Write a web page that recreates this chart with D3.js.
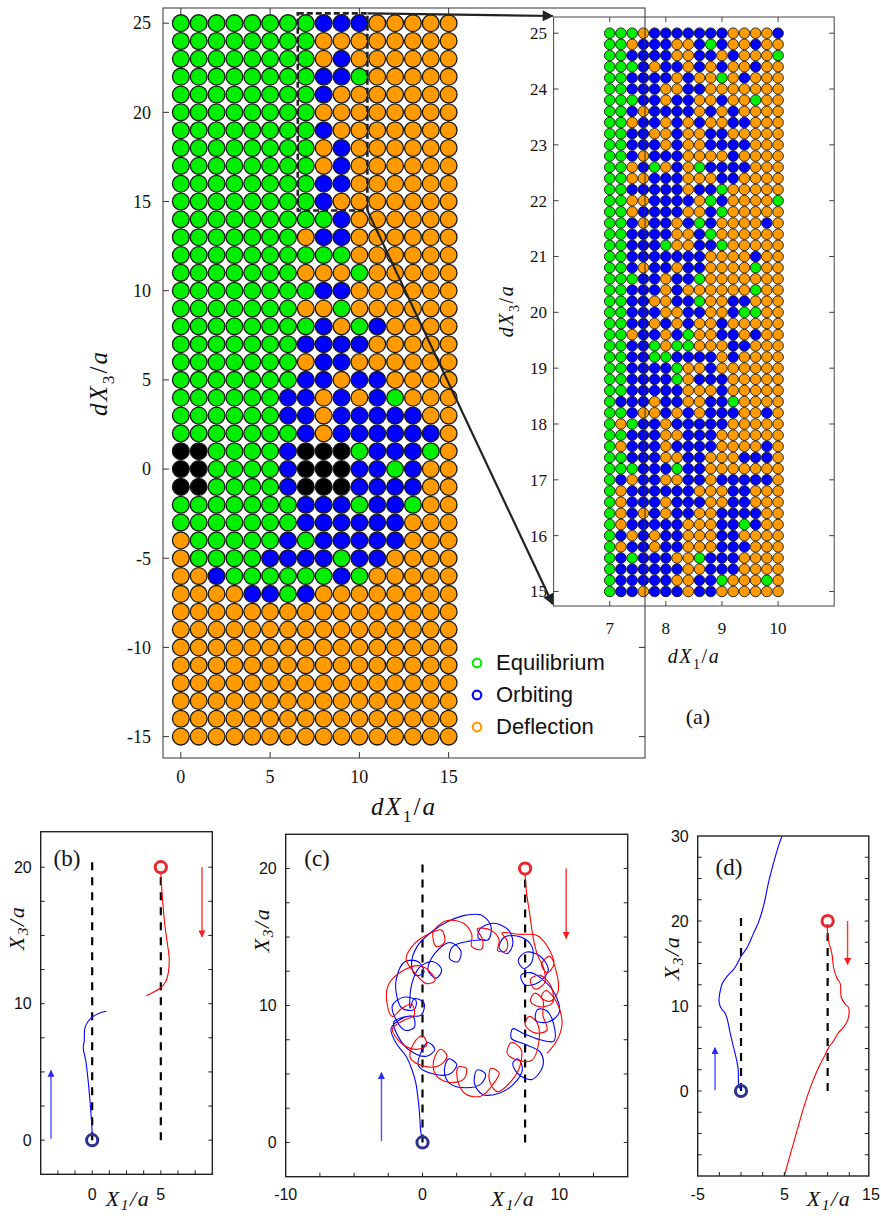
<!DOCTYPE html>
<html>
<head>
<meta charset="utf-8">
<script src="https://cdn.jsdelivr.net/npm/d3@7"></script>
<style>
  body { margin: 0; background: #fff; }
  svg { display: block; }
</style>
</head>
<body>
<svg id="fig" width="881" height="1218"></svg>
<script>
// ---------- (a) phase map of outcomes ----------
const mainDX1 = [0, 1, 2, 3, 4, 5, 6, 7, 8, 9, 10, 11, 12, 13, 14, 15];
const mainDX3 = [25, 24, 23, 22, 21, 20, 19, 18, 17, 16, 15, 14, 13, 12, 11, 10, 9, 8, 7, 6, 5, 4, 3, 2, 1, 0,
                 -1, -2, -3, -4, -5, -6, -7, -8, -9, -10, -11, -12, -13, -14, -15];
// G = equilibrium, B = orbiting, O = deflection, K = overlapping start
const mainStates = [
  "GGGGGGGGBBBOOOOO", "GGGGGGGGOOOOOOOO", "GGGGGGGGOBOOOOOO", "GGGGGGGGBBGOOOOO",
  "GGGGGGGGBOOOOOOO", "GGGGGGGGOOOOOOOO", "GGGGGGGGBOOOOOOO", "GGGGGGGGOBOOOOOO",
  "GGGGGGGGOBOOOOOO", "GGGGGGGGBBOOOOOO", "GGGGGGGGBOOOOOOO", "GGGGGGGGGBOOOOOO",
  "GGGGGGGOBBOOOOOO", "GGGGGGGGGGOOOOOO", "GGGGGGGOOOGOOOOO", "GGGGGGGGBBOOOOOO",
  "GGGGGGGOOGOOOOOO", "GGGGGGGGBOGBOOOO", "GGGGGGGBBBBOOOOO", "GGGGGGGOBBOOOOOO",
  "GGGGGGGBBOBBOOOO", "GGGGGGBBOBOBGOOO", "GGGGGGBBOBBBBBOO", "GGGGGGGBOBBBBBBO",
  "KKGGGGBKKKGBBBGO", "KKGGGGBKKKBBGBOO", "KKGGGGBKKKBBBBOO", "GGGGGGGBBBGBBGOO",
  "GGGGGGGBBBBBBOOO", "OGGGGGBGBBBBBOOO", "OGGGGBBBBGBBOOOO", "OOBGGGGGGBGOOOOO",
  "OOOOBBGBOOOOOOOO", "OOOOOOOOOOOOOOOO", "OOOOOOOOOOOOOOOO", "OOOOOOOOOOOOOOOO",
  "OOOOOOOOOOOOOOOO", "OOOOOOOOOOOOOOOO", "OOOOOOOOOOOOOOOO", "OOOOOOOOOOOOOOOO",
  "OOOOOOOOOOOOOOOO"
];
const mainXTicks = [0, 5, 10, 15];
const mainYTicks = [-15, -10, -5, 0, 5, 10, 15, 20, 25];

// refined scan of the window 7 <= dX1 <= 10, 15 <= dX3 <= 25
const zoomBoxX = [6.55, 10.45];
const zoomBoxY = [14.5, 25.55];
const insetDX1 = [7, 7.2, 7.4, 7.6, 7.8, 8, 8.2, 8.4, 8.6, 8.8, 9, 9.2, 9.4, 9.6, 9.8, 10];
const insetDX3 = [25, 24.8, 24.6, 24.4, 24.2, 24, 23.8, 23.6, 23.4, 23.2, 23, 22.8, 22.6, 22.4, 22.2, 22,
                  21.8, 21.6, 21.4, 21.2, 21, 20.8, 20.6, 20.4, 20.2, 20, 19.8, 19.6, 19.4, 19.2, 19,
                  18.8, 18.6, 18.4, 18.2, 18, 17.8, 17.6, 17.4, 17.2, 17, 16.8, 16.6, 16.4, 16.2, 16,
                  15.8, 15.6, 15.4, 15.2, 15];
const insetStates = [
  "GGGOBBBBBBBOOOOB", "GGOBBBOOBGBOOBOO", "GGBBBBOOBBOBOOOG", "GGGBOBBOBOBOOBOO",
  "GGBBBBOBOOGOBOOO", "GGBBBOOBBOOOOOOO", "GGGBBOBBOOBOOGOO", "GGBOBBBBOBOBOOOO",
  "GGOBBOBOBOOBBOOO", "GGBBOOBOOBBOOOOO", "GGBBBOBOOBBBBOOO", "GGBOBBBOOOOBOOOO",
  "GGOBGOBOGBBBBOOO", "GGOOBBBOOOBBOOOO", "GGBBBBBOBBGOOOOO", "GGOOBBBBOGBOOOOG",
  "GGOBBBBOOBGOOOOO", "GGBOBBOBGBOOOOBO", "GGBBBBOOBGOOOOOO", "GGBBBGOOBBGOOOOO",
  "GGBBBBBBBOOOOBOO", "GGBOBBOBBOOOOGOO", "GGGBBOBBGOOOOOOO", "GGBBBOBOOOOOOGOO",
  "GGBBOOBBGOOBBOOO", "GGBBBOOBBOOBGGOO", "GGBBOBOBOOBOOOOO", "GGOBBOBGOOBBOBOO",
  "GGBBGOGGOOOBBOOO", "GGBBGGBBBBOBOOOO", "GGBBBBGOOBOOOOOO", "GGBBBBGOBBBOOOOO",
  "GGBBBBBOOOBOOOOO", "GBBBOBBOOBBGOOOO", "GGBOOBOBOBBBOOBO", "GOGBBOBBBBBOOOOO",
  "GGBBBOOBBBOOOOOO", "GOBBBOBBBBOOOOBO", "GGBBBOOBBOOOBBBO", "GGGBBBGBBOOOOOOO",
  "GBOBBOOBBOBBBBBO", "GOBBBBBBOOOBBOOO", "GOBBBOBBBOOBBOOO", "GOBOBOBBOOBBBBOO",
  "GOBBBBBOOOBBGBOO", "GBOBOBBOOOBBOOOO", "GOBBOBBOOOBBBOOO", "GBGBBBOOGBBBOOOO",
  "GBBBBBBOOBBBOOOO", "GBBBBBOOBBGOOOGO", "GBBOBBBOBBOOOOOO"
];
const insetXTicks = [7, 8, 9, 10];
const insetYTicks = [15, 16, 17, 18, 19, 20, 21, 22, 23, 24, 25];

const legendKeys = ["G", "B", "O"];
const legendLabels = ["Equilibrium", "Orbiting", "Deflection"];

// ---------- (b)-(d) sample trajectories ----------
const bBlue = [[0, 0.3], [0, 0.54], [-0.12, 2.37], [-0.29, 4.32], [-0.46, 5.78], [-0.65, 6.76], [-0.58, 7.25],
               [-0.53, 8.22], [-0.29, 8.71], [0.07, 9.07], [0.56, 9.32], [1.04, 9.44]];
const bRed = [[5, 19.6], [5.12, 17.73], [5.29, 15.78], [5.49, 14.32], [5.61, 13.34], [5.56, 12.37],
              [5.36, 11.63], [4.97, 11.15], [4.44, 10.83], [3.95, 10.59]];
const cBlue = [[0, 0.3], [-0.1, 0.6], [-0.25, 2.5], [-0.5, 4.4], [-0.8, 5.4], [-1.2, 6.3],
  [-1.9, 7.2], [-2.3, 8.3],
  [-1.6, 9.0], [-0.7, 9.2], [-0.6, 8.4], [-1.3, 8.2], [-1.9, 8.9],
  [-2.2, 10.0],
  [-1.4, 10.6], [-0.5, 10.4], [-0.6, 9.7], [-1.5, 9.8], [-1.9, 10.8],
  [-1.9, 12.0], [-1.3, 13.2],
  [-0.3, 13.2], [0.1, 12.4], [-0.5, 12.2], [-0.8, 13.0], [-0.4, 14.3],
  [0.7, 15.4], [2.0, 16.2], [3.2, 16.6], [4.3, 16.6],
  [5.0, 15.8], [4.8, 14.8], [4.1, 14.9], [4.2, 15.6], [5.2, 16.0],
  [6.3, 15.5],
  [6.6, 14.5], [6.2, 13.8], [5.6, 14.2], [6.0, 15.0], [7.2, 15.0],
  [8.0, 14.3],
  [8.0, 13.2], [7.4, 12.7], [7.0, 13.3], [7.6, 13.9], [8.6, 13.6],
  [9.2, 12.6],
  [8.5, 11.7], [7.5, 11.5], [7.2, 12.2], [7.9, 12.4], [8.9, 11.8],
  [9.7, 10.8], [10.0, 9.5],
  [9.2, 8.8], [8.3, 8.9], [8.4, 9.7], [9.1, 9.6], [9.6, 8.6],
  [9.6, 7.4],
  [8.6, 7.5], [7.3, 8.0], [6.6, 8.3], [6.5, 7.6], [7.4, 7.2], [8.6, 6.6],
  [8.8, 5.6], [8.0, 4.6],
  [7.0, 5.0], [6.6, 5.8], [7.0, 6.1], [7.3, 5.3], [6.6, 4.2],
  [5.6, 3.6], [4.4, 3.5],
  [3.8, 4.3], [4.0, 5.3], [4.6, 5.0], [4.3, 4.3], [3.2, 4.0],
  [2.0, 4.3],
  [1.6, 5.2], [1.9, 6.1], [2.5, 5.7], [2.0, 5.0], [0.8, 5.0],
  [-0.3, 5.6],
  [-0.1, 6.6], [0.4, 7.3], [0.9, 6.8], [0.3, 6.3], [-0.9, 6.7],
  [-1.7, 7.6], [-2.1, 8.8],
  [-1.2, 9.2], [-0.1, 9.3], [0.1, 10.2], [-0.6, 10.5], [-0.9, 9.8],
  [-0.8, 11.5], [-0.2, 12.8],
  [0.8, 13.2], [1.4, 12.6], [1.0, 12.0], [0.4, 12.6], [0.9, 13.8],
  [2.0, 14.6],
  [2.8, 14.0], [2.6, 13.2], [2.0, 13.4], [2.2, 14.3], [3.4, 14.7],
  [4.6, 14.8]];
const cRed = [[7.5, 19.6], [7.6, 18.3], [7.85, 16.6], [8.1, 14.9], [8.4, 13.7], [8.9, 12.6],
  [8.9, 11.6], [8.2, 11.2], [7.9, 11.9], [8.6, 12.2], [9.4, 11.4],
  [9.5, 10.2],
  [8.6, 9.9], [7.9, 10.3], [8.2, 10.9], [8.8, 10.4], [8.8, 9.3],
  [9.1, 8.2],
  [8.2, 8.0], [7.5, 8.6], [7.8, 9.2], [8.4, 8.7], [8.5, 7.3],
  [8.0, 6.0],
  [7.0, 6.0], [6.2, 6.5], [6.5, 7.3], [7.2, 6.8], [7.1, 5.5],
  [6.5, 4.5], [5.5, 3.7],
  [4.9, 4.5], [5.0, 5.4], [5.6, 5.1], [5.2, 4.3], [4.3, 3.4],
  [3.2, 3.5],
  [2.6, 4.4], [2.6, 5.5], [3.2, 5.4], [3.0, 4.6], [1.9, 4.4],
  [1.0, 4.9],
  [0.8, 5.9], [1.3, 6.8], [1.8, 6.3], [1.2, 5.6], [0.0, 5.6],
  [-0.9, 6.2],
  [-0.6, 7.3], [0.0, 7.8], [0.3, 7.1], [-0.5, 6.8], [-1.6, 7.3],
  [-2.2, 8.3],
  [-1.4, 8.9], [-0.6, 9.3], [-0.8, 10.1], [-1.5, 9.8], [-2.2, 9.2],
  [-2.6, 10.2], [-2.5, 11.5],
  [-1.5, 12.5], [-0.2, 12.9], [0.6, 12.4], [0.9, 11.8], [0.3, 11.6], [-0.5, 12.3], [-1.2, 13.4],
  [-0.6, 14.5],
  [0.6, 15.3], [1.4, 15.5], [1.6, 14.6], [1.0, 14.3], [0.8, 15.4], [1.8, 16.2],
  [3.0, 16.0],
  [3.6, 15.2], [3.6, 14.3], [4.3, 14.1], [4.4, 14.8], [4.0, 15.6],
  [5.0, 15.5],
  [5.6, 14.8], [5.5, 14.0], [6.1, 14.0], [6.2, 14.7], [5.8, 15.3],
  [7.0, 15.2], [8.4, 15.1],
  [9.2, 14.2], [9.6, 13.0], [9.1, 12.4], [8.7, 13.0], [9.3, 13.6],
  [9.8, 12.4], [9.9, 11.0],
  [9.3, 10.3], [8.7, 10.6], [9.0, 11.1], [9.5, 10.7], [10.0, 9.8],
  [10.2, 8.6], [9.8, 7.4], [9.1, 6.5]];
const dBlue = [[0, 0.3], [-0.2, 0.4], [-0.35, 2.75], [-0.66, 4.3], [-1.04, 5.9], [-1.31, 7.1], [-1.54, 8.25],
  [-1.81, 9.1], [-2.39, 9.9], [-2.54, 10.6], [-2.47, 11.4], [-2.2, 12.55], [-1.89, 13.1], [-1.43, 13.7],
  [-0.85, 14.3], [-0.27, 15.3], [0, 15.85], [0.39, 16.4], [0.77, 17.0], [1.38, 18.4], [2.04, 19.9],
  [2.61, 21.8], [3.19, 24.6], [3.77, 26.9], [4.35, 28.9], [4.73, 30.0]];
const dRed = [[9.92, 19.6], [10.11, 17.65], [10.5, 16.1], [10.69, 14.5], [11.07, 13.3], [11.46, 12.6],
  [11.57, 11.0], [12.04, 10.2], [12.42, 9.8], [12.3, 8.3], [11.84, 7.5], [11.27, 6.9], [10.69, 5.9],
  [10.11, 5.1], [9.73, 4.3], [9.34, 3.55], [8.77, 2.35], [8.0, 0.4], [7.23, -1.96], [6.46, -4.7],
  [5.69, -7.45], [5.0, -10.0]];

const stateColor = { G: "#00ee00", B: "#0000ff", O: "#ff9a00", K: "#000000" };
const SERIF = "'Liberation Serif', 'Times New Roman', serif";
const SANS = "'Liberation Sans', Arial, Helvetica, sans-serif";

const svg = d3.select("#fig");
const defs = svg.append("defs");

function addArrowHead(id, color, len, wid) {
  defs.append("marker")
    .attr("id", id)
    .attr("viewBox", "0 0 10 10")
    .attr("refX", 9).attr("refY", 5)
    .attr("markerUnits", "userSpaceOnUse")
    .attr("markerWidth", len).attr("markerHeight", wid)
    .attr("orient", "auto")
    .append("path").attr("d", "M0,0 L10,5 L0,10 Z").attr("fill", color);
}
addArrowHead("headBlack", "#222", 15, 11);
addArrowHead("headBlue", "#2a2aff", 10, 7);
addArrowHead("headRed", "#ff1a1a", 10, 7);

// text with italic / subscript pieces
function mathText(g, x, y, parts, size, opts = {}) {
  const t = g.append("text")
    .attr("x", x).attr("y", y)
    .attr("text-anchor", "middle")
    .attr("font-family", SERIF)
    .attr("font-size", size)
    .attr("fill", "#111");
  if (opts.rotate) t.attr("transform", `rotate(-90,${x},${y})`);
  if (opts.spacing) t.attr("letter-spacing", opts.spacing);
  const drop = size * (opts.subDrop || 0.28);
  let shift = 0;
  parts.forEach(p => {
    const s = t.append("tspan").text(p.t);
    if (p.i) s.attr("font-style", "italic");
    if (p.sub) {
      s.attr("font-size", size * 0.7).attr("dy", drop);
      shift = drop;
    } else if (shift) {
      s.attr("dy", -shift);
      shift = 0;
    }
  });
  return t;
}

// ================= panel (a) =================
const gA = svg.append("g");
const xA = d3.scaleLinear().domain([-1, 26]).range([163, 645]);
const yA = d3.scaleLinear().domain([-16.2, 25.85]).range([758, 8]);

const mainCells = [];
mainStates.forEach((row, i) => {
  mainDX1.forEach((dx, j) => mainCells.push({ x: dx, y: mainDX3[i], s: row[j] }));
});
gA.append("g").selectAll("circle").data(mainCells).join("circle")
  .attr("cx", d => xA(d.x)).attr("cy", d => yA(d.y)).attr("r", 8.4)
  .attr("fill", d => stateColor[d.s])
  .attr("stroke", "#1a1a1a").attr("stroke-width", 1.3);

// ticks on the main frame (inward)
const tickA = gA.append("g").attr("stroke", "#333").attr("stroke-width", 1);
mainYTicks.forEach(v => {
  tickA.append("line").attr("x1", 163).attr("x2", 169).attr("y1", yA(v)).attr("y2", yA(v));
  tickA.append("line").attr("x1", 645).attr("x2", 639).attr("y1", yA(v)).attr("y2", yA(v));
});
mainXTicks.forEach(v => {
  tickA.append("line").attr("x1", xA(v)).attr("x2", xA(v)).attr("y1", 758).attr("y2", 752);
  tickA.append("line").attr("x1", xA(v)).attr("x2", xA(v)).attr("y1", 8).attr("y2", 14);
});
gA.append("g").selectAll("text").data(mainYTicks).join("text")
  .attr("x", 151).attr("y", d => yA(d)).attr("dy", "0.35em")
  .attr("text-anchor", "end").attr("font-family", SERIF).attr("font-size", 18).attr("fill", "#111")
  .text(d => String(d));
gA.append("g").selectAll("text").data(mainXTicks).join("text")
  .attr("x", d => xA(d)).attr("y", 783)
  .attr("text-anchor", "middle").attr("font-family", SERIF).attr("font-size", 18).attr("fill", "#111")
  .text(d => String(d));

mathText(gA, 404, 815, [{ t: "dX", i: true }, { t: "1", sub: true }, { t: "/" }, { t: "a", i: true }], 25, { spacing: 2 });
mathText(gA, 107, 383, [{ t: "dX", i: true }, { t: "3", sub: true }, { t: "/" }, { t: "a", i: true }], 25, { rotate: true, spacing: 2 });

// zoomed window outline
gA.append("rect")
  .attr("x", xA(zoomBoxX[0])).attr("y", yA(zoomBoxY[1]))
  .attr("width", xA(zoomBoxX[1]) - xA(zoomBoxX[0]))
  .attr("height", yA(zoomBoxY[0]) - yA(zoomBoxY[1]))
  .attr("fill", "none").attr("stroke", "#222").attr("stroke-width", 2.6)
  .attr("stroke-dasharray", "6,3");

// legend
const legG = gA.append("g");
legendKeys.forEach((k, i) => {
  const ly = 662 + i * 32;
  legG.append("circle").attr("cx", 477).attr("cy", ly + 1).attr("r", 4.3)
    .attr("fill", "none").attr("stroke", stateColor[k]).attr("stroke-width", 2.2);
  legG.append("text").attr("x", 496).attr("y", ly).attr("dy", "0.35em")
    .attr("font-family", SANS).attr("font-size", 22).attr("fill", "#111")
    .text(legendLabels[i]);
});

// ================= inset =================
const gI = svg.append("g");
const xI = d3.scaleLinear().domain([6, 11]).range([553.6, 834.2]);
const yI = d3.scaleLinear().domain([14.74, 25.29]).range([606, 17]);
gI.append("rect").attr("x", xI(6)).attr("y", yI(25.29))
  .attr("width", xI(11) - xI(6)).attr("height", yI(14.74) - yI(25.29))
  .attr("fill", "#fff").attr("stroke", "#444").attr("stroke-width", 1);

const insetCells = [];
insetStates.forEach((row, i) => {
  insetDX1.forEach((dx, j) => insetCells.push({ x: dx, y: insetDX3[i], s: row[j] }));
});
gI.append("g").selectAll("circle").data(insetCells).join("circle")
  .attr("cx", d => xI(d.x)).attr("cy", d => yI(d.y)).attr("r", 5.3)
  .attr("fill", d => stateColor[d.s])
  .attr("stroke", "#1a1a1a").attr("stroke-width", 0.9);

const tickI = gI.append("g").attr("stroke", "#444").attr("stroke-width", 1);
insetYTicks.forEach(v => {
  tickI.append("line").attr("x1", xI(6)).attr("x2", xI(6) + 5).attr("y1", yI(v)).attr("y2", yI(v));
  tickI.append("line").attr("x1", xI(11)).attr("x2", xI(11) - 5).attr("y1", yI(v)).attr("y2", yI(v));
});
insetXTicks.forEach(v => {
  tickI.append("line").attr("x1", xI(v)).attr("x2", xI(v)).attr("y1", yI(14.74)).attr("y2", yI(14.74) - 5);
  tickI.append("line").attr("x1", xI(v)).attr("x2", xI(v)).attr("y1", yI(25.29)).attr("y2", yI(25.29) + 5);
});
gI.append("g").selectAll("text").data(insetYTicks).join("text")
  .attr("x", 547).attr("y", d => yI(d)).attr("dy", "0.35em")
  .attr("text-anchor", "end").attr("font-family", SERIF).attr("font-size", 17).attr("fill", "#111")
  .text(d => String(d));
gI.append("g").selectAll("text").data(insetXTicks).join("text")
  .attr("x", d => xI(d)).attr("y", 634)
  .attr("text-anchor", "middle").attr("font-family", SERIF).attr("font-size", 17).attr("fill", "#111")
  .text(d => String(d));
mathText(gI, 694, 663, [{ t: "dX", i: true }, { t: "1", sub: true }, { t: "/" }, { t: "a", i: true }], 20, { spacing: 1.5 });
mathText(gI, 513, 311, [{ t: "dX", i: true }, { t: "3", sub: true }, { t: "/" }, { t: "a", i: true }], 20, { rotate: true, spacing: 1.5 });
gI.append("text").attr("x", 698).attr("y", 724).attr("text-anchor", "middle")
  .attr("font-family", SERIF).attr("font-size", 22).attr("fill", "#111").text("(a)");

// main frame drawn over the inset
svg.append("rect").attr("x", 163).attr("y", 8).attr("width", 645 - 163).attr("height", 758 - 8)
  .attr("fill", "none").attr("stroke", "#333").attr("stroke-width", 1);

// pointers from the window to the inset
const arrowG = svg.append("g").attr("stroke", "#222").attr("stroke-width", 2.2).attr("fill", "none");
arrowG.append("line")
  .attr("x1", xA(zoomBoxX[1])).attr("y1", yA(zoomBoxY[1]))
  .attr("x2", xI(6) - 1).attr("y2", yI(25.29) - 1)
  .attr("marker-end", "url(#headBlack)");
arrowG.append("line")
  .attr("x1", xA(zoomBoxX[1])).attr("y1", yA(zoomBoxY[0]))
  .attr("x2", xI(6) - 1).attr("y2", yI(14.74) - 2)
  .attr("marker-end", "url(#headBlack)");

// ================= panels (b), (c), (d) =================
function trajectoryPanel(cfg) {
  const g = svg.append("g");
  const x = d3.scaleLinear().domain(cfg.xDomain).range(cfg.xRange);
  const y = d3.scaleLinear().domain(cfg.yDomain).range(cfg.yRange);
  const [L, R] = cfg.xRange;
  const [B, T] = cfg.yRange;

  // dashed reference tracks
  cfg.tracks.forEach(tr => {
    g.append("line")
      .attr("x1", x(tr.x)).attr("x2", x(tr.x)).attr("y1", y(tr.y0)).attr("y2", y(tr.y1))
      .attr("stroke", "#000").attr("stroke-width", 2.2).attr("stroke-dasharray", "8,7");
  });

  const line = d3.line().x(d => x(d[0])).y(d => y(d[1])).curve(d3.curveCatmullRom.alpha(0.5));
  g.append("path").datum(cfg.blue).attr("d", line)
    .attr("fill", "none").attr("stroke", "#0000ff").attr("stroke-width", 1.1);
  g.append("path").datum(cfg.red).attr("d", line)
    .attr("fill", "none").attr("stroke", "#ff0000").attr("stroke-width", 1.1);

  // start markers
  g.append("circle").attr("cx", x(cfg.blueStart[0])).attr("cy", y(cfg.blueStart[1])).attr("r", 5.6)
    .attr("fill", "none").attr("stroke", "#2e3192").attr("stroke-width", 3);
  g.append("circle").attr("cx", x(cfg.redStart[0])).attr("cy", y(cfg.redStart[1])).attr("r", 5.6)
    .attr("fill", "none").attr("stroke", "#e8262b").attr("stroke-width", 3);

  // direction arrows
  g.append("line")
    .attr("x1", x(cfg.blueArrow[0][0])).attr("y1", y(cfg.blueArrow[0][1]))
    .attr("x2", x(cfg.blueArrow[1][0])).attr("y2", y(cfg.blueArrow[1][1]))
    .attr("stroke", "#4d4dff").attr("stroke-width", 1.4).attr("marker-end", "url(#headBlue)");
  g.append("line")
    .attr("x1", x(cfg.redArrow[0][0])).attr("y1", y(cfg.redArrow[0][1]))
    .attr("x2", x(cfg.redArrow[1][0])).attr("y2", y(cfg.redArrow[1][1]))
    .attr("stroke", "#ff3333").attr("stroke-width", 1.4).attr("marker-end", "url(#headRed)");

  // frame and inward ticks
  g.append("rect").attr("x", L).attr("y", T).attr("width", R - L).attr("height", B - T)
    .attr("fill", "none").attr("stroke", "#222").attr("stroke-width", 1.4);
  const tk = g.append("g").attr("stroke", "#222").attr("stroke-width", 1);
  cfg.xTicks.forEach(v => tk.append("line").attr("x1", x(v)).attr("x2", x(v)).attr("y1", B).attr("y2", B - 4));
  cfg.yTicks.forEach(v => {
    tk.append("line").attr("x1", L).attr("x2", L + 4).attr("y1", y(v)).attr("y2", y(v));
    tk.append("line").attr("x1", R).attr("x2", R - 4).attr("y1", y(v)).attr("y2", y(v));
  });
  g.append("g").selectAll("text").data(cfg.xLabels).join("text")
    .attr("x", d => x(d)).attr("y", 1200).attr("text-anchor", "middle")
    .attr("font-family", SANS).attr("font-size", 16).attr("fill", "#111").text(d => String(d));
  g.append("g").selectAll("text").data(cfg.yLabels).join("text")
    .attr("x", L - 9).attr("y", d => y(d)).attr("dy", "0.35em").attr("text-anchor", "end")
    .attr("font-family", SANS).attr("font-size", 16).attr("fill", "#111").text(d => String(d));

  g.append("text").attr("x", cfg.tag[0]).attr("y", cfg.tag[1]).attr("text-anchor", "middle")
    .attr("font-family", SERIF).attr("font-size", 23).attr("fill", "#111").text(cfg.name);
  mathText(g, cfg.xTitle[0], cfg.xTitle[1],
    [{ t: "X", i: true }, { t: "1", i: true, sub: true }, { t: "/a", i: true }], 22, { spacing: 1.5, subDrop: 0.2 });
  mathText(g, cfg.yTitle[0], cfg.yTitle[1],
    [{ t: "X", i: true }, { t: "3", i: true, sub: true }, { t: "/a", i: true }], 22, { rotate: true, spacing: 1.5, subDrop: 0.2 });
}

trajectoryPanel({
  name: "(b)", xDomain: [-3.75, 8.75], xRange: [40.7, 212.3], yDomain: [-2.5, 22.6], yRange: [1174.3, 831.7],
  xTicks: [-2.5, -1.25, 0, 1.25, 2.5, 3.75, 5, 6.25, 7.5], yTicks: [0, 2.5, 5, 7.5, 10, 12.5, 15, 17.5, 20],
  xLabels: [0, 5], yLabels: [0, 10, 20],
  tracks: [{ x: 0, y0: 0, y1: 20.5 }, { x: 5, y0: 0, y1: 19.6 }],
  blue: bBlue, red: bRed, blueStart: [0, 0], redStart: [5, 20],
  blueArrow: [[-3, 0.1], [-3, 5.1]], redArrow: [[8, 20], [8, 14.9]],
  tag: [67, 866], xTitle: [128, 1206], yTitle: [24, 928]
});
trajectoryPanel({
  name: "(c)", xDomain: [-10, 15], xRange: [285.7, 627.7], yDomain: [-2.5, 22.5], yRange: [1176.7, 834.3],
  xTicks: [-7.5, -5, -2.5, 0, 2.5, 5, 7.5, 10, 12.5], yTicks: [0, 2.5, 5, 7.5, 10, 12.5, 15, 17.5, 20],
  xLabels: [-10, 0, 10], yLabels: [0, 10, 20],
  tracks: [{ x: 0, y0: 0, y1: 20.5 }, { x: 7.5, y0: 0, y1: 19.6 }],
  blue: cBlue, red: cRed, blueStart: [0, 0], redStart: [7.5, 20],
  blueArrow: [[-3, 0.1], [-3, 5.1]], redArrow: [[10.5, 20], [10.5, 14.9]],
  tag: [317, 866], xTitle: [513, 1206], yTitle: [269, 930]
});
trajectoryPanel({
  name: "(d)", xDomain: [-5, 14.75], xRange: [697.7, 868.8], yDomain: [-10, 30], yRange: [1176, 836],
  xTicks: [-2.5, 0, 2.5, 5, 7.5, 10, 12.5], yTicks: [-7.5, -5, -2.5, 0, 2.5, 5, 7.5, 10, 12.5, 15, 17.5, 20, 22.5, 25, 27.5],
  xLabels: [-5, 5, 15], yLabels: [0, 10, 20, 30],
  tracks: [{ x: 0, y0: 0, y1: 20.6 }, { x: 10, y0: 0, y1: 19.6 }],
  blue: dBlue, red: dRed, blueStart: [0, 0], redStart: [10, 20],
  blueArrow: [[-3, 0.1], [-3, 5.1]], redArrow: [[12.3, 20], [12.3, 14.9]],
  tag: [729, 875], xTitle: [829, 1206], yTitle: [679, 958]
});
</script>
</body>
</html>
